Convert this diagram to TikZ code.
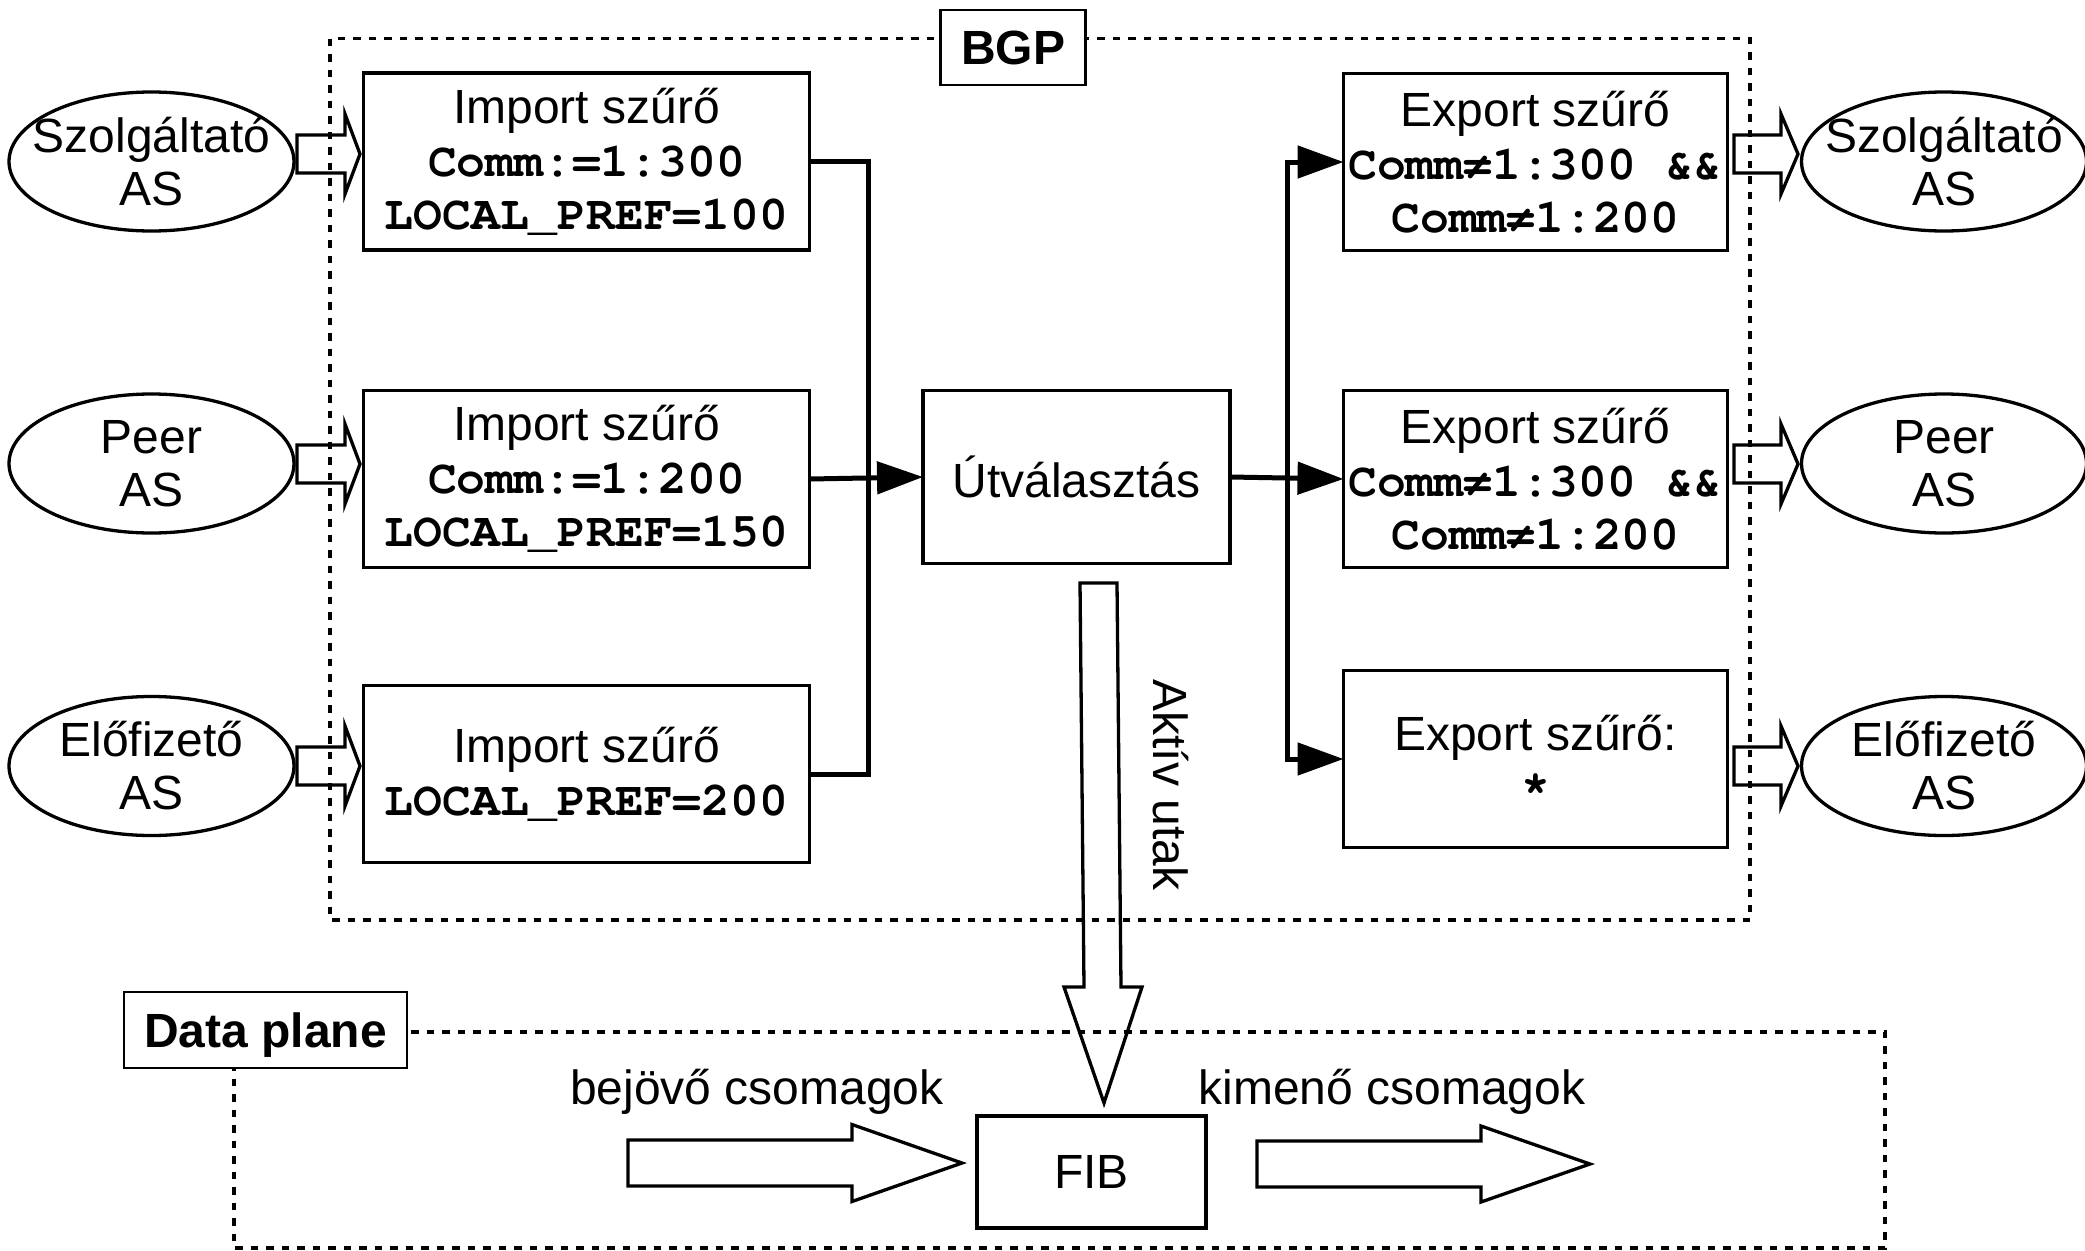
\documentclass[tikz,border=0pt]{standalone}
\usepackage{fontspec}
\setmainfont{Liberation Sans}
\setmonofont{TeX Gyre Cursor}
\usetikzlibrary{arrows.meta,shapes.geometric,calc}
\newcommand\mono[1]{{\ttfamily\bfseries #1}}
\newcommand\harrowshape[6]{\draw[blk] (#1,#4-#5) -- (#2,#4-#5) -- (#2,#4-#6) -- (#3,#4) -- (#2,#4+#6) -- (#2,#4+#5) -- (#1,#4+#5) -- cycle;}
\begin{document}
\begin{tikzpicture}[x=1pt,y=-1pt,
  every node/.style={font=\fontsize{48}{53}\selectfont, inner sep=0pt, outer sep=0pt},
  filterbox/.style={draw, line width=3.3pt, align=center, minimum height=177pt},
  impbox/.style={filterbox, minimum width=446pt},
  expbox/.style={filterbox, minimum width=384pt},
  asnode/.style={draw, ellipse, line width=3.3pt, minimum width=285pt, minimum height=139pt, align=center, inner xsep=-30pt, inner ysep=-8pt},
  dashframe/.style={line width=3.3pt, dash pattern=on 7.5pt off 8pt},
  labelbox/.style={draw, fill=white, line width=2.5pt, font=\fontsize{48}{53}\selectfont\bfseries, text height=34pt, text depth=0pt},
  conn/.style={line width=5pt, line join=miter},
  headarrow/.style={-{Triangle[length=46pt,width=32pt]}},
  blk/.style={line width=3.3pt, line join=miter},
]
\useasboundingbox (0,0) rectangle (2085,1250);
% frames
\draw[dashframe] (330,38.5) rectangle (1750,920);
\draw[dashframe] (234,1032) rectangle (1885,1248);
\node[labelbox, minimum width=145pt, minimum height=75pt] (bgp) at (1013,47.5) {BGP};
\node[labelbox, minimum width=283pt, minimum height=76pt] (dp) at (265.5,1030) {Data plane};
% AS ellipses
\node[asnode] (sz1) at (151.5,161.5) {Szolgáltató\\AS};
\node[asnode] (peer1) at (151.5,463.5) {Peer\\AS};
\node[asnode] (elo1) at (151.5,766) {Előfizető\\AS};
\node[asnode] (sz2) at (1944,161.5) {Szolgáltató\\AS};
\node[asnode] (peer2) at (1944,463.5) {Peer\\AS};
\node[asnode] (elo2) at (1944,766) {Előfizető\\AS};
% filters
\node[impbox] (imp1) at (586.5,161.5) {Import szűrő\\\mono{Comm:=1:300}\\\mono{LOCAL\_PREF=100}};
\node[impbox] (imp2) at (586.5,479) {Import szűrő\\\mono{Comm:=1:200}\\\mono{LOCAL\_PREF=150}};
\node[impbox] (imp3) at (586.5,774) {Import szűrő\\\mono{LOCAL\_PREF=200}};
\node[draw, line width=3.3pt, minimum width=307pt, minimum height=173pt] (route) at (1076.5,477) {Útválasztás};
\node[expbox] (exp1) at (1535.5,162) {Export szűrő\\\mono{Comm≠1:300 \&\&}\\\mono{Comm≠1:200}};
\node[expbox] (exp2) at (1535.5,479) {Export szűrő\\\mono{Comm≠1:300 \&\&}\\\mono{Comm≠1:200}};
\node[expbox] (exp3) at (1535.5,759) {Export szűrő:\\\mono{*}};
\node[draw, line width=3.3pt, minimum width=229pt, minimum height=112pt] (fib) at (1091.5,1172) {FIB};
% connectors
\coordinate (merge) at (868,0);
\draw[conn] (imp1.east) -| (merge |- imp3.east) -- (imp3.east);
\draw[conn,headarrow] (imp2.east) -- (route.west);
\coordinate (split) at ($(route.east)+(57,0)$);
\draw[conn,headarrow] (route.east) -- (exp2.west);
\draw[conn,headarrow] (split) |- (exp1.west);
\draw[conn,headarrow] (split) |- (exp3.west);
% block arrows
\harrowshape{297}{345}{360}{154}{19}{40}
\harrowshape{297}{345}{360}{464}{19}{40}
\harrowshape{297}{345}{360}{766}{19}{40}
\harrowshape{1734}{1781}{1798}{154}{19}{40}
\harrowshape{1734}{1781}{1798}{464}{19}{40}
\harrowshape{1734}{1781}{1798}{766}{19}{40}
\harrowshape{628}{852}{962}{1163}{23}{38.5}
\harrowshape{1257}{1481}{1590}{1164}{23}{38}
\draw[blk] (1080,583) -- (1117,583) -- (1121,987) -- (1142,987) -- (1104,1103) -- (1064,987) -- (1084,987) -- cycle;
% labels
\node[anchor=base] (inlbl) at (757,1104) {bejövő csomagok};
\node[anchor=base] (outlbl) at (1392,1104) {kimenő csomagok};
\node[anchor=base, rotate=-90] (aktiv) at (1153,785) {Aktív utak};
\end{tikzpicture}
\end{document}
